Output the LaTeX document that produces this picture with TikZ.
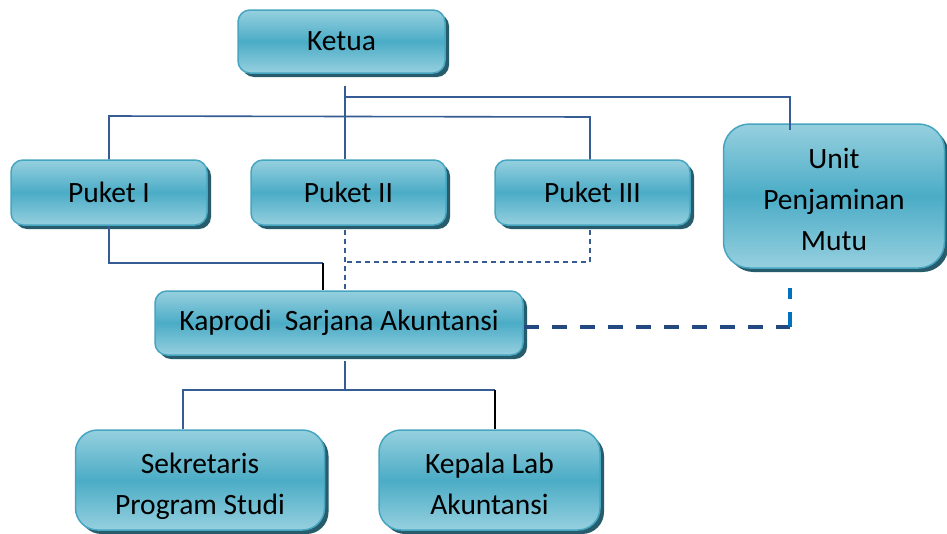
\documentclass[tikz,border=0pt]{standalone}
\usepackage{fontspec}
\setmainfont{Carlito}
\usetikzlibrary{shadows}
\definecolor{boxlight}{RGB}{150,208,223}
\definecolor{boxmid}{RGB}{75,172,198}
\definecolor{boxedge}{RGB}{70,165,192}
\definecolor{boxshadow}{RGB}{38,92,108}
\definecolor{linecol}{RGB}{54,92,148}
\definecolor{thickcol}{RGB}{36,72,128}
\definecolor{brightcol}{RGB}{0,112,192}
\newcommand{\downtext}[2]{\raisebox{-#1}[\height][\depth]{\begin{tabular}{@{}c@{}}#2\end{tabular}}}
\tikzset{
  orgbox/.style={draw=boxedge, line width=1.5pt, rounded corners=12pt,
    top color=boxlight, bottom color=boxlight, middle color=boxmid,
    drop shadow={shadow xshift=4pt, shadow yshift=-4pt, fill=boxshadow, opacity=1},
    align=center, inner sep=0pt,
    font=\fontsize{29.5}{41}\selectfont},
  conn/.style={draw=linecol, line width=1.6pt},
  connblack/.style={draw=black, line width=1.6pt},
  dashconn/.style={draw=linecol, line width=1.5pt, dash pattern=on 5pt off 4pt},
  thickdash/.style={draw=thickcol, line width=4pt, dash pattern=on 15pt off 13pt},
  brightdash/.style={draw=brightcol, line width=4pt, dash pattern=on 15pt off 13pt}
}
\begin{document}
\begin{tikzpicture}[x=1pt,y=-1pt]
\clip (0,0) rectangle (947,533);
\fill[white] (0,0) rectangle (947,533);
% boxes
\node[orgbox, minimum width=207pt, minimum height=63pt] (ketua) at (341.5,41.5) {Ketua};
\node[orgbox, minimum width=196pt, minimum height=65pt] (p1) at (109,192.5) {Puket I};
\node[orgbox, minimum width=195pt, minimum height=65pt] (p2) at (348.5,192.5) {Puket II};
\node[orgbox, minimum width=195pt, minimum height=65pt] (p3) at (592.5,192.5) {Puket III};
\node[orgbox, rounded corners=26pt, minimum width=221pt, minimum height=144pt] (upm) at (834,196) {\downtext{5pt}{Unit\\Penjaminan\\Mutu}};
\node[orgbox, minimum width=368pt, minimum height=64pt] (kap) at (339,323) {Kaprodi\ \ Sarjana Akuntansi};
\node[orgbox, rounded corners=22pt, minimum width=249pt, minimum height=100pt] (sek) at (200,480) {\downtext{6pt}{Sekretaris\\Program Studi}};
\node[orgbox, rounded corners=22pt, minimum width=221pt, minimum height=100pt] (kep) at (489.5,480) {\downtext{6pt}{Kepala Lab\\Akuntansi}};
% coordinates
\coordinate (hub) at (345,97);
\coordinate (u1) at (790,97);
\coordinate (b1) at (109,116);
\coordinate (b3) at (590,117);
\coordinate (k1) at (323,263);
\coordinate (d3) at (590,262);
\coordinate (q) at (790,327);
\coordinate (h2) at (345,390);
\coordinate (s1) at (183,390);
\coordinate (s2) at (495,390);
% connectors
\draw[conn] ([yshift=-12pt]ketua.south -| hub) -- (hub |- p2.north);
\draw[conn] (hub) -- (u1) -- ([yshift=-7pt]u1 |- upm.north);
\draw[conn] (b1 |- p1.north) -- (b1) -- (b3) -- (b3 |- p3.north);
\draw[conn] (p1.south) |- (k1);
\draw[connblack] (k1) -- (k1 |- kap.north);
\draw[dashconn] ([yshift=-4pt]p2.south -| hub) -- (hub |- kap.north);
\draw[dashconn] ([yshift=-4pt]p3.south -| d3) -- (d3) -- (d3 -| hub);
\draw[thickdash] (kap.east |- q) -- (q);
\draw[brightdash] (q) -- ([yshift=-19pt]upm.south -| q);
\draw[conn] ([yshift=-5pt]kap.south -| h2) -- (h2);
\draw[conn] (s1 |- sek.north) -- (s1) -- (s2);
\draw[connblack] (s2) -- (s2 |- kep.north);
\end{tikzpicture}
\end{document}
